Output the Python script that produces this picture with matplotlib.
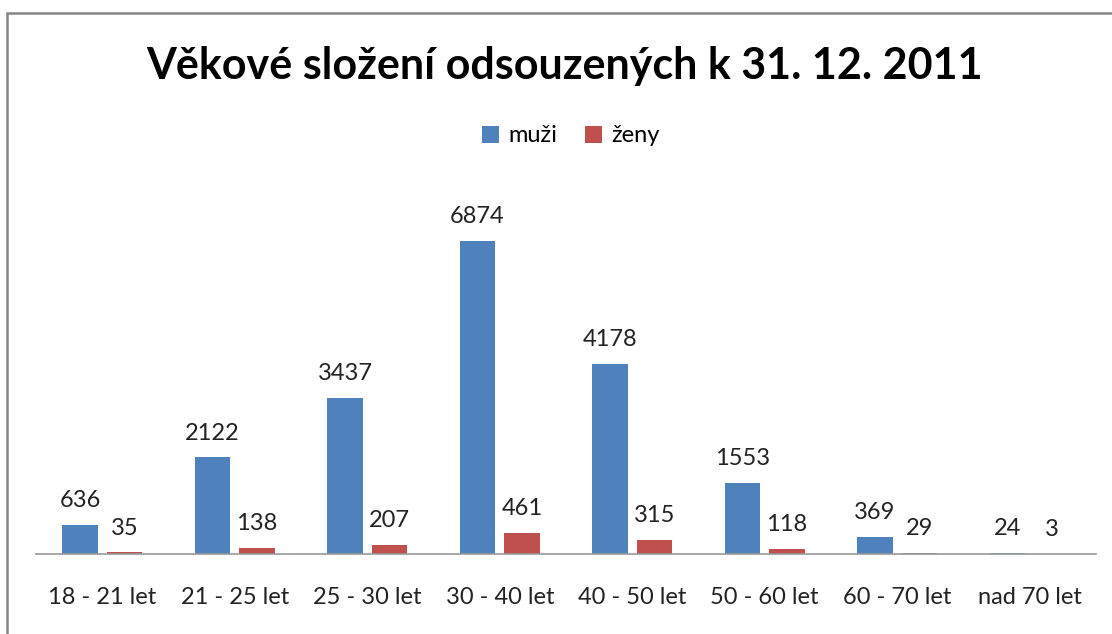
import matplotlib.pyplot as plt
import numpy as np
from matplotlib.patches import Rectangle

plt.rcParams['font.family'] = ['Lato', 'DejaVu Sans']

kategorie = ['18 - 21 let', '21 - 25 let', '25 - 30 let', '30 - 40 let',
             '40 - 50 let', '50 - 60 let', '60 - 70 let', 'nad 70 let']
muzi = [636, 2122, 3437, 6874, 4178, 1553, 369, 24]
zeny = [35, 138, 207, 461, 315, 118, 29, 3]

W, H = 1112, 634
fig = plt.figure(figsize=(W / 100, H / 100), dpi=100)

# ramecek grafu (pravy a dolni okraj jsou mimo obrazek)
fig.patches.append(Rectangle((7 / W, -0.1), 1.2, 1 - 13 / H + 0.1,
                             transform=fig.transFigure, fill=False,
                             edgecolor='#868686', linewidth=1.8))

# osa: x 36..1096 px, zakladna y=554, horni okraj ~ 8000
ax = fig.add_axes([36 / W, (H - 554) / H, 1060 / W, 364 / H])
x = np.arange(len(kategorie))
w = 0.265
b1 = ax.bar(x - 0.168, muzi, w, color='#4F81BD', label='muži')
b2 = ax.bar(x + 0.168, zeny, w, color='#C0504D', label='ženy')
ax.bar_label(b1, padding=10, fontsize=17, color='#222222')
ax.bar_label(b2, padding=10, fontsize=17, color='#222222')

ax.set_xlim(-0.5, len(kategorie) - 0.5)
ax.set_ylim(0, 8000)
ax.set_xticks(x)
ax.set_xticklabels(kategorie, fontsize=17, color='#222222')
ax.tick_params(axis='x', length=0, pad=24)
ax.set_yticks([])
for s in ['top', 'right', 'left']:
    ax.spines[s].set_visible(False)
ax.spines['bottom'].set_color('#9a9a9a')
ax.spines['bottom'].set_linewidth(1.2)

fig.text(565 / W, 1 - 66 / H, 'Věkové složení odsouzených k 31. 12. 2011',
         ha='center', va='center', fontsize=31, fontweight='bold')
fig.legend(handles=[b1, b2], loc='center', bbox_to_anchor=(571 / W, 1 - 136 / H),
           ncol=2, frameon=False, fontsize=17, handlelength=0.7,
           handleheight=0.7, handletextpad=0.4, columnspacing=1.2)

fig.savefig('out.png', dpi=100)
